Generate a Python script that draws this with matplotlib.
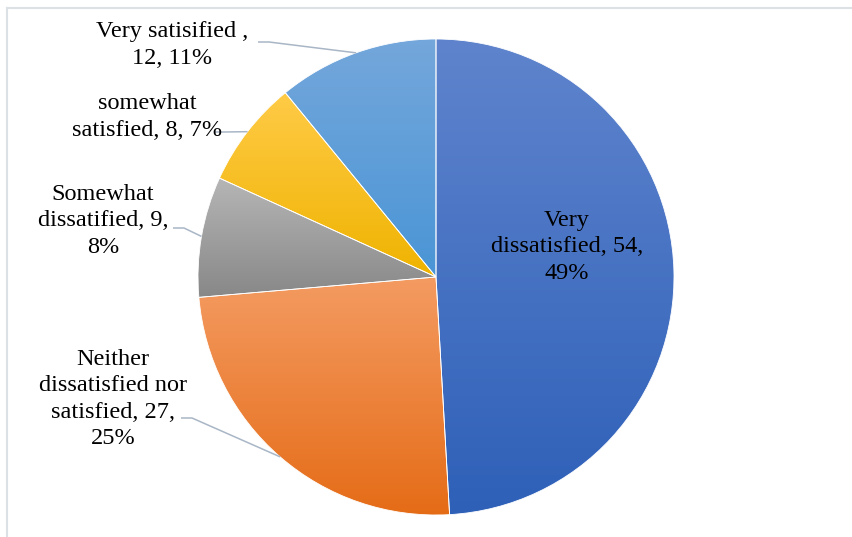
import numpy as np
import matplotlib
matplotlib.use("Agg")
import matplotlib.pyplot as plt
from matplotlib.colors import LinearSegmentedColormap

plt.rcParams["font.family"] = "serif"
plt.rcParams["font.serif"] = ["Liberation Serif", "Times New Roman", "DejaVu Serif"]

# Survey responses (clockwise from 12 o'clock)
categories = ["Very dissatisfied", "Neither dissatisfied nor satisfied",
              "Somewhat dissatified", "somewhat satisfied", "Very satisified "]
counts = [54, 27, 9, 8, 12]
percents = [49, 25, 8, 7, 11]
label_templates = [
    "Very\ndissatisfied, {c},\n{p}%",
    "Neither\ndissatisfied nor\nsatisfied, {c},\n{p}%",
    "Somewhat\ndissatified, {c},\n{p}%",
    "somewhat\nsatisfied, {c}, {p}%",
    "Very satisified ,\n{c}, {p}%",
]

# gradient fills: (top colour, bottom colour)
fills = [
    ("#5F84CD", "#2E60B8"),
    ("#F49B62", "#E56C17"),
    ("#B6B6B6", "#888888"),
    ("#FFCB47", "#EFB300"),
    ("#74A7DB", "#4A95D6"),
]

W, H = 853, 537
fig = plt.figure(figsize=(W / 100, H / 100), dpi=100)
ax = fig.add_axes([0, 0, 1, 1])

center = (436, 260)
radius = 238
wedges, _ = ax.pie(counts, startangle=90, counterclock=False,
                   center=center, radius=radius, frame=True,
                   wedgeprops=dict(facecolor="none", edgecolor="white", linewidth=0.6))

grad = np.linspace(0, 1, 256).reshape(-1, 1)
for w, (top, bot) in zip(wedges, fills):
    bb = w.get_path().transformed(w.get_patch_transform()).get_extents()
    cmap = LinearSegmentedColormap.from_list("g", [bot, top])
    im = ax.imshow(grad, cmap=cmap, origin="lower", aspect="auto",
                   extent=[bb.x0, bb.x1, bb.y0, bb.y1], zorder=1,
                   interpolation="bilinear")
    im.set_clip_path(w)
    w.set_zorder(2)

ax.set_xlim(0, W)
ax.set_ylim(0, H)
ax.set_aspect("equal")
ax.axis("off")

font = dict(fontsize=17.5, color="#000000",
            ha="center", va="center", multialignment="center", linespacing=1.32)

# label centres (x, y) and leader-line start points
label_pos = [(567, 290), (113, 138), (103, 316), (147, 420), (172, 492)]
leader_start = [None, (181, 119), (173, 309), (214, 405), (258, 495)]
leader_color = "#A9B6C6"

for w, tmpl, c, p, pos, ls in zip(wedges, label_templates, counts, percents,
                                   label_pos, leader_start):
    ax.text(pos[0], pos[1], tmpl.format(c=c, p=p), zorder=5, **font)
    if ls is not None:
        mid = np.deg2rad((w.theta1 + w.theta2) / 2)
        ex = center[0] + radius * np.cos(mid)
        ey = center[1] + radius * np.sin(mid)
        ax.plot([ls[0], ls[0] + 11, ex], [ls[1], ls[1], ey],
                color=leader_color, lw=1.1, zorder=4, solid_capstyle="butt")

# chart area border (top and left edges visible)
ax.plot([7, W], [H - 8, H - 8], color="#DCE1E6", lw=1.5, zorder=6)
ax.plot([7, 7], [0, H - 8], color="#DCE1E6", lw=1.5, zorder=6)

fig.savefig("out.png", dpi=100)
